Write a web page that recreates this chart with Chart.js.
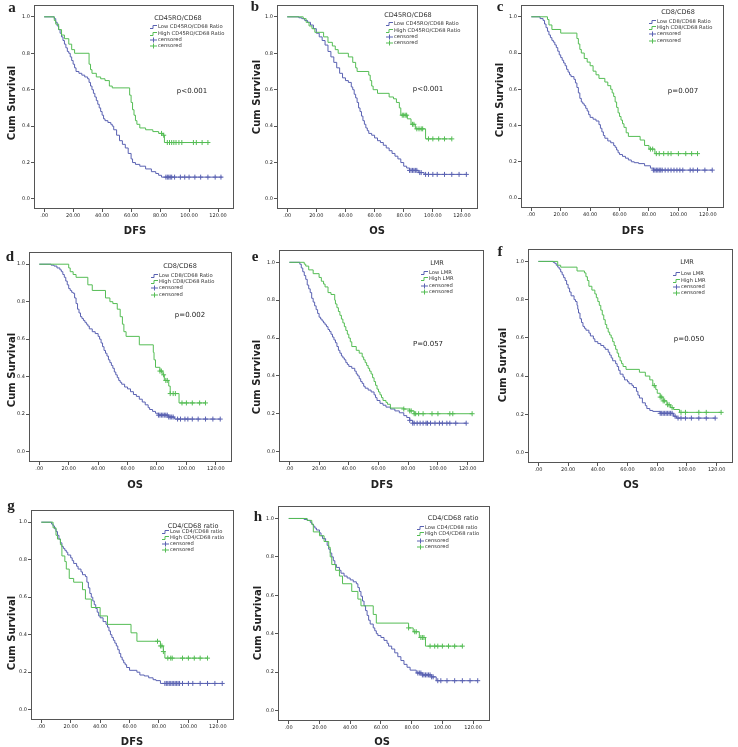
<!DOCTYPE html>
<html><head><meta charset="utf-8">
<script src="https://cdn.jsdelivr.net/npm/chart.js@4.4.1/dist/chart.umd.min.js"></script>
<style>
html,body{margin:0;padding:0;background:#fff;}
#wrap{position:relative;width:738px;height:747px;overflow:hidden;background:#fff;}
#wrap canvas{position:absolute;left:0;top:0;}
</style></head><body><div id="wrap"></div>
<script>
// ---------- tick labels ----------
const xTickValues=[0,20,40,60,80,100,120];
const xTickLabels=['.00','20.00','40.00','60.00','80.00','100.00','120.00'];
const yTickValues=[0,0.2,0.4,0.6,0.8,1.0];
const yTickLabels=['0.0','0.2','0.4','0.6','0.8','1.0'];

// ---------- text ----------
const panelLetters=['a','b','c','d','e','f','g','h'];
const legendTitles=['CD45RO/CD68','CD45RO/CD68','CD8/CD68','CD8/CD68','LMR','LMR','CD4/CD68 ratio','CD4/CD68 ratio'];
const lowLabels=['Low CD45RO/CD68 Ratio','Low CD45RO/CD68 Ratio','Low CD8/CD68 Ratio','Low CD8/CD68 Ratio','Low LMR','Low LMR','Low CD4/CD68 ratio','Low CD4/CD68 ratio'];
const highLabels=['High CD45RO/CD68 Ratio','High CD45RO/CD68 Ratio','High CD8/CD68 Ratio','High CD8/CD68 Ratio','High LMR','High LMR','High CD4/CD68 ratio','High CD4/CD68 ratio'];
const censoredLabel='censored';
const pTexts=['p<0.001','p<0.001','p=0.007','p=0.002','P=0.057','p=0.050','',''];
const xTitles=['DFS','OS','DFS','OS','DFS','OS','DFS','OS'];
const yTitleText='Cum Survival';

// ---------- panel a ----------
const aLowT=[0,7,8,9,10,11,12,13,14,15,16,17,18,19,20,21,22,24,26,28,30,31,32,33,34,35,36,37,38,39,40,41,42,44,46,47,48,50,52,54,56,58,60,61,63,66,70,74,77,79,81,123];
const aLowS=[1,0.99,0.97,0.95,0.93,0.91,0.89,0.87,0.85,0.83,0.81,0.80,0.78,0.76,0.74,0.72,0.70,0.69,0.68,0.67,0.66,0.64,0.62,0.60,0.58,0.56,0.54,0.52,0.50,0.48,0.46,0.44,0.43,0.42,0.41,0.40,0.38,0.35,0.32,0.30,0.28,0.25,0.22,0.20,0.19,0.18,0.165,0.15,0.14,0.13,0.12,0.12];
const aHighT=[0,7,8,10,12,14,17,19,21,31,32,33,36,39,42,45,47,59,60,61,62,63,64,66,70,75,79,82,83,113];
const aHighS=[1,0.98,0.96,0.93,0.90,0.88,0.85,0.82,0.80,0.74,0.71,0.69,0.67,0.66,0.65,0.62,0.61,0.57,0.53,0.49,0.46,0.43,0.41,0.39,0.38,0.37,0.36,0.35,0.31,0.31];
const aLowCT=[84,85,86,87,88,90,94,97,100,104,108,113,118,122];
const aLowCS=[0.12,0.12,0.12,0.12,0.12,0.12,0.12,0.12,0.12,0.12,0.12,0.12,0.12,0.12];
const aHighCT=[81,82.5,85,86.5,88,89.5,91,93,95,103,105,109,113];
const aHighCS=[0.36,0.35,0.31,0.31,0.31,0.31,0.31,0.31,0.31,0.31,0.31,0.31,0.31];

// ---------- panel b ----------
const bLowT=[0,8,10,12,14,16,18,20,22,24,26,28,30,32,34,36,38,40,42,44,45,46,47,48,49,50,51,52,53,54,55,56,58,60,62,64,66,68,70,72,74,76,78,80,82,84,90,94,123];
const bLowS=[1,0.995,0.99,0.98,0.97,0.955,0.935,0.91,0.89,0.87,0.845,0.81,0.78,0.75,0.72,0.69,0.665,0.65,0.64,0.615,0.60,0.575,0.555,0.53,0.50,0.48,0.455,0.43,0.41,0.39,0.375,0.36,0.35,0.335,0.32,0.31,0.295,0.28,0.265,0.25,0.235,0.22,0.20,0.18,0.17,0.157,0.145,0.135,0.135];
const bHighT=[0,11,13,15,17,19,25,28,31,33,35,42,45,47,48,56,57,58,59,62,70,73,75,77,78,82.5,85,88,95,113];
const bHighS=[1,0.99,0.97,0.95,0.935,0.915,0.89,0.86,0.84,0.82,0.80,0.78,0.75,0.72,0.70,0.68,0.65,0.62,0.60,0.58,0.56,0.55,0.53,0.50,0.46,0.44,0.41,0.385,0.33,0.33];
const bLowCT=[84,85,86,87,88,89,91,92,95,97,100,103,108,113,118,123];
const bLowCS=[0.157,0.157,0.157,0.157,0.157,0.157,0.145,0.145,0.135,0.135,0.135,0.135,0.135,0.135,0.135,0.135];
const bHighCT=[79,80,81,82,86,87,89,90.5,92,93,97,100,104,108,113];
const bHighCS=[0.46,0.46,0.46,0.46,0.41,0.41,0.385,0.385,0.385,0.385,0.33,0.33,0.33,0.33,0.33];

// ---------- panel c ----------
const cLowT=[0,6,8,9,10,11,12,13,14,15,16,17,18,19,20,21,22,23,24,25,26,27,29,30,31,32,33,34,35,36,37,38,39,40,42,44,46,47,48,49,50,52,54,56,57,58,59,60,62,64,66,68,70,73,77,81,83,123];
const cLowS=[1,0.99,0.98,0.96,0.94,0.92,0.90,0.885,0.87,0.86,0.845,0.83,0.81,0.79,0.775,0.76,0.745,0.73,0.71,0.695,0.68,0.67,0.655,0.635,0.61,0.58,0.55,0.53,0.52,0.51,0.495,0.48,0.46,0.445,0.435,0.425,0.405,0.385,0.365,0.345,0.33,0.315,0.305,0.29,0.28,0.265,0.25,0.24,0.23,0.22,0.21,0.20,0.195,0.19,0.178,0.165,0.154,0.154];
const cHighT=[0,11,12,14,20,31,32,33,34,36,38,40,42,44,46,50,52,54,55,56,57,58,59,60,61,62,63,64.5,66,74,77,80,84,113];
const cHighS=[1,0.985,0.955,0.93,0.91,0.88,0.85,0.82,0.80,0.77,0.75,0.73,0.70,0.68,0.66,0.64,0.62,0.60,0.58,0.56,0.53,0.50,0.47,0.45,0.43,0.41,0.39,0.36,0.34,0.32,0.29,0.27,0.245,0.245];
const cLowCT=[83,84,85,86,87,88,89,91,93,95,97,99,101,103,108,110,113,118,123];
const cLowCS=[0.154,0.154,0.154,0.154,0.154,0.154,0.154,0.154,0.154,0.154,0.154,0.154,0.154,0.154,0.154,0.154,0.154,0.154,0.154];
const cHighCT=[81,82.5,85,87,90,93,95,100,105,109,113];
const cHighCS=[0.27,0.27,0.245,0.245,0.245,0.245,0.245,0.245,0.245,0.245,0.245];

// ---------- panel d ----------
const dLowT=[0,8,10,12,14,15,16,17,18,19,20,21,22,23,24,25,26,27,28,29,30,31,32,33,34,36,38,40,41,42,43,44,45,46,47,48,49,50,51,52,53,54,55,56,58,60,62,64,66,68,70,72,74,75,77,79,81,88,92,123];
const dLowS=[1,0.995,0.99,0.98,0.97,0.96,0.945,0.93,0.91,0.89,0.87,0.86,0.85,0.845,0.82,0.79,0.76,0.74,0.72,0.71,0.70,0.69,0.68,0.67,0.655,0.64,0.63,0.615,0.60,0.58,0.56,0.54,0.525,0.51,0.49,0.475,0.46,0.445,0.425,0.41,0.395,0.38,0.37,0.36,0.345,0.335,0.32,0.305,0.295,0.28,0.265,0.25,0.235,0.225,0.215,0.205,0.195,0.185,0.174,0.174];
const dHighT=[0,20,21,23,25,33,36,45,48,50,53,55,56.5,57.5,59,68,77.5,78,79,82,84,85,88,89,95,113];
const dHighS=[1,0.98,0.96,0.945,0.93,0.89,0.86,0.82,0.80,0.79,0.76,0.72,0.68,0.64,0.615,0.57,0.53,0.49,0.45,0.43,0.41,0.38,0.35,0.31,0.26,0.26];
const dLowCT=[81,82,83,84,85,86,87,88,89,90,91,94,96,99,101,104,108,113,118,123];
const dLowCS=[0.195,0.195,0.195,0.195,0.195,0.195,0.195,0.185,0.185,0.185,0.185,0.174,0.174,0.174,0.174,0.174,0.174,0.174,0.174,0.174];
const dHighCT=[82,83,84.5,86,87,89,91,92.5,97,100,104,109,113];
const dHighCS=[0.43,0.43,0.41,0.38,0.38,0.31,0.31,0.31,0.26,0.26,0.26,0.26,0.26];

// ---------- panel e ----------
const eLowT=[0,7,8,9,10,11,12,13,14,15,16,17,18,19,20,21,22,23,24,25,26,27,28,29,30,31,32,33,34,35,36,37,38,39,40,42,44,45,46,47,48,49,50,51,53,55,57,58,59,61,63,65,68,71,74,77,79,81,83,119];
const eLowS=[1,0.99,0.97,0.95,0.93,0.91,0.88,0.86,0.84,0.81,0.79,0.77,0.75,0.73,0.71,0.70,0.69,0.68,0.67,0.66,0.645,0.635,0.62,0.605,0.59,0.575,0.555,0.535,0.52,0.505,0.495,0.485,0.47,0.46,0.45,0.44,0.425,0.41,0.40,0.385,0.37,0.36,0.345,0.335,0.325,0.315,0.30,0.285,0.27,0.255,0.245,0.235,0.225,0.215,0.205,0.19,0.18,0.165,0.15,0.15];
const eHighT=[0,10,11,13,16,20,21.5,23,24,26,28,30.5,31,32,33,34,35,36,37,38,39,40,41,42,45,47,49,50,51,52,53,54,55,56,57,58,59,60,61,62,63,65,66,68,77,81,84,123];
const eHighS=[1,0.99,0.98,0.96,0.94,0.92,0.90,0.885,0.87,0.84,0.83,0.80,0.78,0.76,0.74,0.72,0.70,0.68,0.66,0.64,0.62,0.60,0.58,0.555,0.535,0.52,0.50,0.485,0.47,0.455,0.44,0.425,0.41,0.39,0.37,0.35,0.33,0.315,0.30,0.285,0.27,0.26,0.25,0.23,0.225,0.215,0.20,0.20];
const eLowCT=[81,83,84,86,88,90,92,93,95,98,101,103,106,108,112,119];
const eLowCS=[0.165,0.15,0.15,0.15,0.15,0.15,0.15,0.15,0.15,0.15,0.15,0.15,0.15,0.15,0.15,0.15];
const eHighCT=[77,81,82,84,85,87,90,96,100,108,110,123];
const eHighCS=[0.225,0.215,0.215,0.20,0.20,0.20,0.20,0.20,0.20,0.20,0.20,0.20];

// ---------- panel f ----------
const fLowT=[0,10,11,12,13,14,15,16,17,18,19,20,21,22,24,25,26,26.5,27,28,29,30,31,32,34,35,37,38,40,42,44,45,47,48,49,50,52,53,54,55,57,58,60,61,63,64,66,67,68,70,72,73,75,77,82,91,93,119];
const fLowS=[1,0.995,0.99,0.98,0.97,0.96,0.945,0.93,0.915,0.90,0.88,0.86,0.84,0.82,0.80,0.79,0.77,0.75,0.73,0.70,0.68,0.66,0.65,0.64,0.625,0.61,0.595,0.58,0.57,0.56,0.55,0.54,0.525,0.51,0.495,0.48,0.465,0.45,0.43,0.41,0.395,0.38,0.37,0.36,0.35,0.34,0.32,0.30,0.285,0.26,0.245,0.23,0.22,0.215,0.205,0.19,0.18,0.18];
const fHighT=[0,13,15,26,31,32,33,34,36,38,39,40,41,42,43,44,45,46,47,48,49,50,51,52,53,54,55,56,57,59,68,72,75,77,79,80,82,84,86.5,89,91,95,123];
const fHighS=[1,0.98,0.97,0.95,0.94,0.92,0.90,0.87,0.85,0.83,0.81,0.79,0.77,0.745,0.72,0.695,0.67,0.65,0.63,0.615,0.60,0.58,0.56,0.54,0.52,0.50,0.48,0.465,0.45,0.435,0.42,0.40,0.38,0.35,0.33,0.31,0.29,0.27,0.25,0.235,0.225,0.21,0.21];
const fLowCT=[82,83,84,85,86,87,88,89,90,92,94,96,99,103,108,113,119];
const fLowCS=[0.205,0.205,0.205,0.205,0.205,0.205,0.205,0.205,0.205,0.19,0.18,0.18,0.18,0.18,0.18,0.18,0.18];
const fHighCT=[78,82,83,84,85,87,88,90,96,99,108,113,123];
const fHighCS=[0.35,0.29,0.29,0.27,0.27,0.25,0.25,0.235,0.21,0.21,0.21,0.21,0.21];

// ---------- panel g ----------
const gLowT=[0,7,8,9,10,11,12,13,14,15,16,17,18,20,21,22,24,25,27,28,30,31,32,33,34,35,36,37,38,39,40,42,44,45,46,47,48,49,50,51,52,53,54,55,56,57,58,60,65,67,70,73,76,78,81,123];
const gLowS=[1,0.99,0.98,0.965,0.95,0.93,0.91,0.89,0.87,0.86,0.85,0.84,0.825,0.81,0.795,0.78,0.765,0.75,0.735,0.72,0.71,0.68,0.65,0.62,0.60,0.58,0.56,0.54,0.52,0.50,0.49,0.47,0.455,0.44,0.42,0.40,0.385,0.37,0.355,0.34,0.32,0.30,0.28,0.265,0.25,0.24,0.225,0.21,0.20,0.185,0.18,0.17,0.16,0.155,0.14,0.14];
const gHighT=[0,8,10,11,13,14,16,17,19,22,28,30,34,40,45,61,65,81,83,84,113];
const gHighS=[1,0.97,0.93,0.91,0.88,0.82,0.79,0.75,0.70,0.68,0.64,0.59,0.545,0.50,0.455,0.41,0.365,0.34,0.31,0.275,0.275];
const gLowCT=[84,85,86,87,88,89,90,91,92,93,94,96,100,103,108,113,118,123];
const gLowCS=[0.14,0.14,0.14,0.14,0.14,0.14,0.14,0.14,0.14,0.14,0.14,0.14,0.14,0.14,0.14,0.14,0.14,0.14];
const gHighCT=[79,81,82,83,86,88,89,96,100,104,108,113];
const gHighCS=[0.365,0.34,0.34,0.31,0.275,0.275,0.275,0.275,0.275,0.275,0.275,0.275];

// ---------- panel h ----------
const hLowT=[0,10,12,14,15,16,17,18,20,21,22,24,25,26,27,28,29,30,31,33,34,36,38,40,42,44,45,46,47,48,49,50,51,52,53,55,56,57,58,60,62,64,65,67,69,71,73,75,77,79,83,87,93,96,123];
const hLowS=[1,0.995,0.99,0.98,0.97,0.96,0.95,0.94,0.925,0.91,0.895,0.88,0.86,0.84,0.82,0.80,0.78,0.76,0.745,0.73,0.715,0.70,0.69,0.68,0.67,0.66,0.64,0.62,0.595,0.57,0.545,0.52,0.495,0.47,0.45,0.43,0.415,0.40,0.39,0.38,0.365,0.35,0.335,0.32,0.30,0.28,0.26,0.24,0.225,0.21,0.195,0.185,0.175,0.155,0.155];
const hHighT=[0,12,15,16,20,23,26,27,28,30.5,33,35,41,45,47,55,57,78,81,85,89,113];
const hHighS=[1,0.99,0.97,0.93,0.91,0.88,0.85,0.80,0.76,0.73,0.70,0.66,0.62,0.58,0.545,0.50,0.455,0.43,0.41,0.38,0.335,0.335];
const hLowCT=[84,85,86,87,88,89,90,91,92,93,94,97,99,103,108,113,118,123];
const hLowCS=[0.195,0.195,0.195,0.185,0.185,0.185,0.185,0.185,0.185,0.175,0.175,0.155,0.155,0.155,0.155,0.155,0.155,0.155];
const hHighCT=[78,82,83,86,87,88,92,95,97,100,104,108,113];
const hHighCS=[0.43,0.41,0.41,0.38,0.38,0.38,0.335,0.335,0.335,0.335,0.335,0.335,0.335];

const SERIES=[
 [aLowT,aLowS,aHighT,aHighS,aLowCT,aLowCS,aHighCT,aHighCS],
 [bLowT,bLowS,bHighT,bHighS,bLowCT,bLowCS,bHighCT,bHighCS],
 [cLowT,cLowS,cHighT,cHighS,cLowCT,cLowCS,cHighCT,cHighCS],
 [dLowT,dLowS,dHighT,dHighS,dLowCT,dLowCS,dHighCT,dHighCS],
 [eLowT,eLowS,eHighT,eHighS,eLowCT,eLowCS,eHighCT,eHighCS],
 [fLowT,fLowS,fHighT,fHighS,fLowCT,fLowCS,fHighCT,fHighCS],
 [gLowT,gLowS,gHighT,gHighS,gLowCT,gLowCS,gHighCT,gHighCS],
 [hLowT,hLowS,hHighT,hHighS,hLowCT,hLowCS,hHighCT,hHighCS]
];

// ---------- layout (page pixels) ----------
const LAYOUT=[
 {box:[34,4,234,209],   letter:[12,8],   yT:[12,103],  xT:[135,231], lg:[178,18],  lgY:[27,34,40,46],     lgX:150, p:[192,91]},
 {box:[277,3,478,209],  letter:[255,7],  yT:[257,97],  xT:[377,231], lg:[408,15],  lgY:[24,31,37,43],     lgX:386, p:[428,89]},
 {box:[521,0,724,208],  letter:[500,7],  yT:[500,100], xT:[633,231], lg:[678,12],  lgY:[22,28,34,41],     lgX:649, p:[683,91]},
 {box:[29,252,232,462], letter:[10,257], yT:[12,370],  xT:[135,485], lg:[180,266], lgY:[276,282,288,295], lgX:151, p:[190,315]},
 {box:[279,250,484,462],letter:[255,257],yT:[257,377], xT:[382,485], lg:[437,263], lgY:[273,279,286,292], lgX:421, p:[428,344]},
 {box:[528,249,737,463],letter:[500,252],yT:[503,365], xT:[631,485], lg:[687,262], lgY:[274,281,287,293], lgX:673, p:[689,339]},
 {box:[31,510,234,720], letter:[11,506], yT:[12,633],  xT:[132,742], lg:[193,526], lgY:[532,538,544,550], lgX:162, p:null},
 {box:[278,506,490,721],letter:[258,517],yT:[258,623], xT:[382,742], lg:[453,518], lgY:[528,534,541,547], lgX:417, p:null}
];
const W=738,H=747,YW=16,XH=14;
const BLUE='#5a62b2', GREEN='#55bd55', TXT='#222', FRAME='#555';
const SANS='"DejaVu Sans", "Liberation Sans", sans-serif';

function pts(t,s){return t.map((v,i)=>({x:v,y:s[i]}));}

function overlay(idx){
  const L=LAYOUT[idx];
  return {id:'ov'+idx, afterDraw(chart){
    const ctx=chart.ctx, a=chart.chartArea;
    ctx.save();
    ctx.strokeStyle=FRAME; ctx.lineWidth=1;
    ctx.strokeRect(Math.round(a.left)+0.5,Math.round(a.top)+0.5,Math.round(a.right-a.left)-1,Math.round(a.bottom-a.top)-1);
    ctx.fillStyle=TXT; ctx.textBaseline='middle';
    // panel letter
    ctx.font='bold 15px "Liberation Serif", "DejaVu Serif", serif'; ctx.textAlign='center';
    ctx.fillText(panelLetters[idx],L.letter[0],L.letter[1]);
    // y title
    ctx.save(); ctx.translate(L.yT[0],L.yT[1]); ctx.rotate(-Math.PI/2);
    ctx.font='bold 10px '+SANS; ctx.fillText(yTitleText,0,0); ctx.restore();
    // x title
    ctx.font='bold 10px '+SANS; ctx.fillText(xTitles[idx],L.xT[0],L.xT[1]);
    // legend
    ctx.font='6.5px '+SANS; ctx.fillStyle='#333';
    ctx.fillText(legendTitles[idx],L.lg[0],L.lg[1]);
    ctx.font='5.2px '+SANS; ctx.textAlign='left';
    const labels=[lowLabels[idx],highLabels[idx],censoredLabel,censoredLabel];
    const cols=[BLUE,GREEN,BLUE,GREEN];
    for(let k=0;k<4;k++){
      const y=L.lgY[k], x=L.lgX;
      ctx.strokeStyle=cols[k]; ctx.lineWidth=1; ctx.beginPath();
      if(k<2){ ctx.moveTo(x,y+1.5); ctx.lineTo(x+3,y+1.5); ctx.lineTo(x+3,y-1.5); ctx.lineTo(x+7,y-1.5); }
      else { ctx.moveTo(x,y); ctx.lineTo(x+7,y); ctx.moveTo(x+3.5,y-2.5); ctx.lineTo(x+3.5,y+2.5); }
      ctx.stroke();
      ctx.fillStyle='#333'; ctx.fillText(labels[k],x+8,y);
    }
    if(L.p && pTexts[idx]){ ctx.font='7px '+SANS; ctx.textAlign='center'; ctx.fillStyle=TXT; ctx.fillText(pTexts[idx],L.p[0],L.p[1]); }
    ctx.restore();
  }};
}

const wrap=document.getElementById('wrap');
for(let i=0;i<8;i++){
  const [lt,ls,ht,hs,lct,lcs,hct,hcs]=SERIES[i];
  const b=LAYOUT[i].box;
  const c=document.createElement('canvas');
  c.width=W; c.height=H; c.style.width=W+'px'; c.style.height=H+'px';
  wrap.appendChild(c);
  new Chart(c,{
    type:'line',
    data:{datasets:[
      {data:pts(ht,hs),stepped:true,borderColor:GREEN,borderWidth:1,pointRadius:0,fill:false,order:2},
      {data:pts(lt,ls),stepped:true,borderColor:BLUE,borderWidth:1,pointRadius:0,fill:false,order:3},
      {data:pts(hct,hcs),showLine:false,pointStyle:'cross',pointRadius:2.5,borderColor:GREEN,borderWidth:1,order:0},
      {data:pts(lct,lcs),showLine:false,pointStyle:'cross',pointRadius:2.5,borderColor:BLUE,borderWidth:1,order:1}
    ]},
    options:{
      responsive:false,animation:false,events:[],devicePixelRatio:1,
      layout:{padding:{left:b[0]-YW,top:b[1],right:W-b[2],bottom:H-b[3]-XH}},
      plugins:{legend:{display:false},tooltip:{enabled:false},title:{display:false}},
      scales:{
        x:{type:'linear',min:-7,max:131,
           afterBuildTicks:s=>{s.ticks=xTickValues.map(v=>({value:v}));},
           afterFit:s=>{s.height=XH;},
           ticks:{callback:(v,k)=>xTickLabels[k],font:{size:5,family:SANS},color:TXT,padding:1,maxRotation:0,autoSkip:false},
           grid:{display:true,drawOnChartArea:false,drawTicks:true,tickLength:3,color:FRAME},
           border:{display:false}},
        y:{type:'linear',min:-0.055,max:1.065,
           afterBuildTicks:s=>{s.ticks=yTickValues.map(v=>({value:v}));},
           afterFit:s=>{s.width=YW;},
           ticks:{callback:(v,k)=>yTickLabels[k],font:{size:5,family:SANS},color:TXT,padding:1,autoSkip:false},
           grid:{display:true,drawOnChartArea:false,drawTicks:true,tickLength:3,color:FRAME},
           border:{display:false}}
      }
    },
    plugins:[overlay(i)]
  });
}
</script></body></html>
